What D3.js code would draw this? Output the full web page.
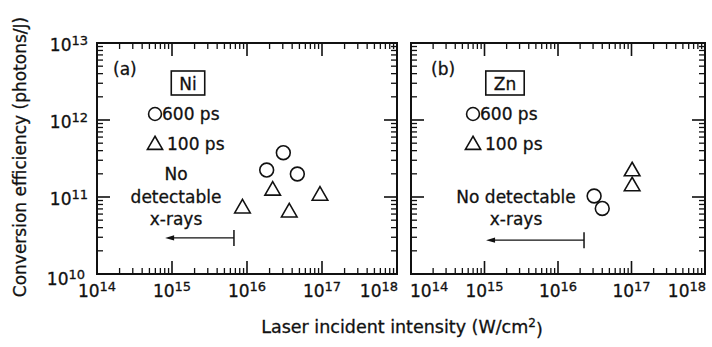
<!DOCTYPE html>
<html>
<head>
<meta charset="utf-8">
<script src="https://cdn.jsdelivr.net/npm/d3@7/dist/d3.min.js"></script>
<style>
  html, body { margin: 0; padding: 0; background: #fff; }
  svg { display: block; }
  text { font-family: "DejaVu Sans", sans-serif; fill: #111; stroke: #111; stroke-width: 0.3px; }
</style>
</head>
<body>
<svg id="chart" width="712" height="347"></svg>
<script>
// Axis ranges and tick labels
const xDomain = [1e14, 1e18];
const yDomain = [1e10, 1e13];
const xTickValues = [1e14, 1e15, 1e16, 1e17, 1e18];
const yTickValues = [1e10, 1e11, 1e12, 1e13];
const xTickExponents = ["14", "15", "16", "17", "18"];
const yTickExponents = ["10", "11", "12", "13"];

// Series: [intensity (W/cm^2), conversion efficiency (photons/J)]
const niPulse600 = [[1.83e16, 2.24e11], [3.05e16, 3.76e11], [4.69e16, 1.99e11]];
const niPulse100 = [[8.7e15, 7.1e10], [2.2e16, 1.21e11], [3.66e16, 6.3e10], [9.4e16, 1.04e11]];
const znPulse600 = [[3.1e16, 1.03e11], [4.0e16, 7.1e10]];
const znPulse100 = [[1.02e17, 2.16e11], [1.02e17, 1.38e11]];

// "No detectable x-rays" ranges: [left end, detection threshold, efficiency level]
const niNoXray = [8.1e14, 6.7e15, 2.94e10];
const znNoXray = [1.05e15, 2.26e16, 2.75e10];

const legendLabels = ["600 ps", "100 ps"];

const svg = d3.select("#chart");
svg.append("rect").attr("width", 712).attr("height", 347).attr("fill", "#fff");

const plotTop = 43, plotBottom = 274;
const ink = "#111";

const panels = [
  { tag: "(a)", element: "Ni", left: 97, right: 397, long: niPulse600, short: niPulse100, noXray: niNoXray,
    tagX: 113, boxCx: 188, legendX: 155, noteCx: 176, noteLines: ["No", "detectable", "x-rays"], noteY: [180, 203, 225] },
  { tag: "(b)", element: "Zn", left: 411, right: 705, long: znPulse600, short: znPulse100, noXray: znNoXray,
    tagX: 431, boxCx: 505, legendX: 473, noteCx: 516, noteLines: ["No detectable", "x-rays"], noteY: [203, 225] }
];

function isDecade(v) {
  const l = Math.log10(v);
  return Math.abs(l - Math.round(l)) < 1e-9;
}

function powerLabel(t, exponent) {
  t.append("tspan").text("10");
  t.append("tspan").attr("dy", "-0.5em").attr("font-size", "13px").text(exponent);
}

const scales = panels.map(p => ({
  x: d3.scaleLog().domain(xDomain).range([p.left, p.right]),
  y: d3.scaleLog().domain(yDomain).range([plotBottom, plotTop])
}));

panels.forEach((p, pi) => {
  const { x, y } = scales[pi];
  const g = svg.append("g");

  // frame
  g.append("rect")
    .attr("x", p.left).attr("y", plotTop)
    .attr("width", p.right - p.left).attr("height", plotBottom - plotTop)
    .attr("fill", "none").attr("stroke", ink).attr("stroke-width", 2);

  // bottom tick labels; the outermost ones are pulled inside the panel edges
  const last = xTickValues.length - 1;
  g.append("g").selectAll("text").data(xTickValues).join("text")
    .attr("x", (d, i) => i === last ? x(d) + 1 : (i === 0 && pi > 0 ? x(d) - 1 : x(d)))
    .attr("y", 297)
    .attr("text-anchor", (d, i) => i === last ? "end" : (i === 0 && pi > 0 ? "start" : "middle"))
    .attr("font-size", "17px")
    .each(function (d, i) { powerLabel(d3.select(this), xTickExponents[i]); });

  // left tick labels (first panel only)
  if (pi === 0) {
    g.append("g").selectAll("text").data(yTickValues).join("text")
      .attr("x", d => p.left - (d === yDomain[0] ? 12 : 9))
      .attr("y", d => y(d) + (d === yDomain[0] ? 11 : 8))
      .attr("text-anchor", "end")
      .attr("font-size", "17px")
      .each(function (d, i) { powerLabel(d3.select(this), yTickExponents[i]); });
  }

  // panel tag
  g.append("text").attr("x", p.tagX).attr("y", 75).attr("font-size", "17px").text(p.tag);

  // element box
  const el = g.append("text").attr("x", p.boxCx).attr("y", 90)
    .attr("text-anchor", "middle").attr("font-size", "17px").text(p.element);
  const bb = el.node().getBBox();
  g.append("rect")
    .attr("x", p.boxCx - (bb.width / 2 + 8)).attr("y", 71)
    .attr("width", bb.width + 16).attr("height", 24)
    .attr("fill", "none").attr("stroke", ink).attr("stroke-width", 1.6);

  // legend
  const circleSym = d3.symbol(d3.symbolCircle, 130);
  const triSym = d3.symbol(d3.symbolTriangle, 100);
  g.append("path").attr("d", circleSym()).attr("transform", `translate(${p.legendX},114)`)
    .attr("fill", "none").attr("stroke", ink).attr("stroke-width", 1.6);
  g.append("text").attr("x", p.legendX + 7).attr("y", 120).attr("font-size", "17px").text(legendLabels[0]);
  g.append("path").attr("d", triSym()).attr("transform", `translate(${p.legendX},145)`)
    .attr("fill", "none").attr("stroke", ink).attr("stroke-width", 1.6);
  g.append("text").attr("x", p.legendX + 12).attr("y", 150).attr("font-size", "17px").text(legendLabels[1]);

  // data markers
  const markerCircle = d3.symbol(d3.symbolCircle, 150);
  const markerTri = d3.symbol(d3.symbolTriangle, 105);
  g.append("g").selectAll("path").data(p.long).join("path")
    .attr("d", markerCircle())
    .attr("transform", d => `translate(${x(d[0])},${y(d[1])})`)
    .attr("fill", "none").attr("stroke", ink).attr("stroke-width", 1.6);
  g.append("g").selectAll("path").data(p.short).join("path")
    .attr("d", markerTri())
    .attr("transform", d => `translate(${x(d[0])},${y(d[1])})`)
    .attr("fill", "none").attr("stroke", ink).attr("stroke-width", 1.6);

  // no-detection note and arrow
  p.noteLines.forEach((line, i) => {
    g.append("text").attr("x", p.noteCx).attr("y", p.noteY[i])
      .attr("text-anchor", "middle").attr("font-size", "17px").text(line);
  });
  const [x0v, x1v, yv] = p.noXray;
  const ay = y(yv), ax0 = x(x0v), ax1 = x(x1v);
  g.append("line").attr("x1", ax0 + 6).attr("x2", ax1).attr("y1", ay).attr("y2", ay)
    .attr("stroke", ink).attr("stroke-width", 1.3);
  g.append("path")
    .attr("d", `M${ax0},${ay}L${ax0 + 9},${ay - 2.6}L${ax0 + 9},${ay + 2.6}Z`)
    .attr("fill", ink);
  g.append("line").attr("x1", ax1).attr("x2", ax1).attr("y1", ay - 8).attr("y2", ay + 8)
    .attr("stroke", ink).attr("stroke-width", 1.5);
});

// axis titles
svg.append("text").attr("x", 402).attr("y", 333).attr("text-anchor", "middle")
  .attr("font-size", "17.5px")
  .call(t => {
    t.append("tspan").text("Laser incident intensity (W/cm");
    t.append("tspan").attr("dy", "-0.5em").attr("font-size", "12px").text("2");
    t.append("tspan").attr("dy", "0.5em").text(")");
  });

svg.append("text")
  .attr("transform", "translate(26,157) rotate(-90)")
  .attr("text-anchor", "middle").attr("font-size", "17px")
  .text("Conversion efficiency (photons/J)");

// inward ticks on all four sides of each frame, drawn as thin filled bars
const tickLayer = svg.append("g");
panels.forEach((p, pi) => {
  const { x, y } = scales[pi];
  const xMinor = x.ticks().filter(v => !isDecade(v));
  const yMinor = y.ticks().filter(v => !isDecade(v));
  const xTicks = xMinor.map(v => ({ v, len: 6, w: 1.3 }))
    .concat(xTickValues.map(v => ({ v, len: 13, w: 1.6 })));
  const yTicks = yMinor.map(v => ({ v, len: 6, w: 1.3 }))
    .concat(yTickValues.map(v => ({ v, len: 13, w: 1.6 })));

  tickLayer.append("g").selectAll("rect").data(xTicks).join("rect")
    .attr("x", d => x(d.v) - d.w / 2).attr("y", d => plotBottom - d.len)
    .attr("width", d => d.w).attr("height", d => d.len).attr("fill", ink);
  tickLayer.append("g").selectAll("rect").data(xTicks).join("rect")
    .attr("x", d => x(d.v) - d.w / 2).attr("y", plotTop)
    .attr("width", d => d.w).attr("height", d => d.len).attr("fill", ink);
  tickLayer.append("g").selectAll("rect").data(yTicks).join("rect")
    .attr("x", p.left).attr("y", d => y(d.v) - d.w / 2)
    .attr("width", d => d.len).attr("height", d => d.w).attr("fill", ink);
  tickLayer.append("g").selectAll("rect").data(yTicks).join("rect")
    .attr("x", d => p.right - d.len).attr("y", d => y(d.v) - d.w / 2)
    .attr("width", d => d.len).attr("height", d => d.w).attr("fill", ink);
});
</script>
</body>
</html>
